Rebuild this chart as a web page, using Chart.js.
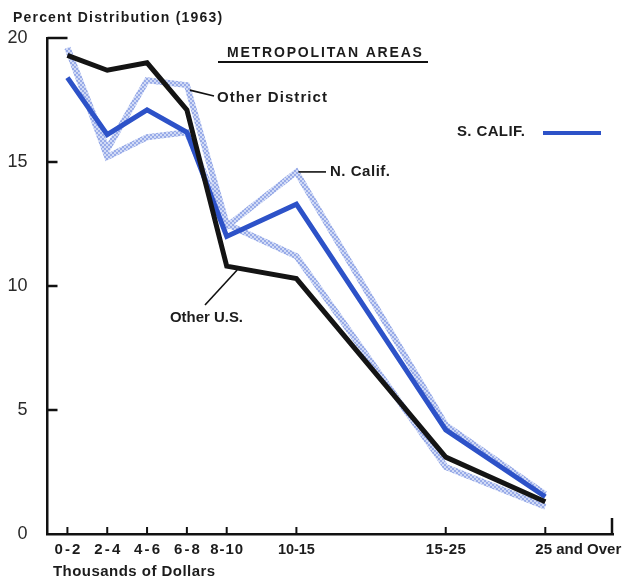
<!DOCTYPE html>
<html>
<head>
<meta charset="utf-8">
<script src="https://cdn.jsdelivr.net/npm/chart.js@4/dist/chart.umd.min.js"></script>
<style>
  html, body { margin: 0; padding: 0; background: #ffffff; }
  #wrap { width: 626px; height: 577px; }
</style>
</head>
<body>
<div id="wrap"><canvas id="c" width="626" height="577"></canvas></div>
<script>
// ---- data ----
const categories = ['0-2', '2-4', '4-6', '6-8', '8-10', '10-15', '15-25', '25 and Over'];
const incomeMidpoints = [1, 3, 5, 7, 9, 12.5, 20, 25]; // thousands of dollars
const otherUS = [19.3, 18.7, 19.0, 17.1, 10.8, 10.3, 3.1, 1.3];
const sCalif = [18.4, 16.1, 17.1, 16.2, 12.0, 13.3, 4.2, 1.5];
const nCalif = [19.6, 15.2, 16.0, 16.2, 12.4, 14.6, 4.4, 1.6];
const otherDistrict = [19.6, 15.5, 18.3, 18.1, 12.5, 11.2, 2.7, 1.1];
const yTicks = [0, 5, 10, 15, 20];
const chartTitle = 'Percent Distribution (1963)';
const panelTitle = 'METROPOLITAN AREAS';
const xAxisTitle = 'Thousands of Dollars';

function pts(values) {
  return values.map((v, i) => ({ x: incomeMidpoints[i], y: v, label: categories[i] }));
}

// halftone-like pattern for the light (hatched) lines
function makePattern() {
  const p = document.createElement('canvas');
  p.width = 4; p.height = 4;
  const g = p.getContext('2d');
  g.fillStyle = '#d2dbf6';
  g.fillRect(0, 0, 4, 4);
  g.fillStyle = '#98abe8';
  g.fillRect(0, 0, 2, 2);
  g.fillRect(2, 2, 2, 2);
  return g.createPattern(p, 'repeat');
}
const ctx0 = document.getElementById('c').getContext('2d');
const lightPattern = makePattern();

const FONT = '"Liberation Sans", Arial, sans-serif';

function fitText(ctx, text, x, cy, width, size, align) {
  ctx.save();
  ctx.font = 'bold ' + size + 'px ' + FONT;
  ctx.fillStyle = '#1c1c1c';
  ctx.textBaseline = 'middle';
  ctx.textAlign = 'left';
  const w0 = ctx.measureText(text).width;
  let left = x;
  if (align === 'center') left = x - width / 2;
  if ('letterSpacing' in ctx && width > w0) {
    const sp = (width - w0) / Math.max(1, text.length - 1);
    ctx.letterSpacing = sp.toFixed(2) + 'px';
    ctx.fillText(text, left, cy);
  } else {
    ctx.translate(left, cy);
    ctx.scale(width / w0, 1);
    ctx.fillText(text, 0, 0);
  }
  ctx.restore();
}

const decor = {
  id: 'decor',
  afterDraw(chart) {
    const ctx = chart.ctx;
    const xs = chart.scales.x, ys = chart.scales.y;
    const ca = chart.chartArea;
    const X = v => xs.getPixelForValue(v);
    const Y = v => ys.getPixelForValue(v);
    ctx.save();
    ctx.strokeStyle = '#111';
    ctx.lineCap = 'butt';
    // y ticks (inside)
    ctx.lineWidth = 2.5;
    yTicks.forEach(t => {
      if (t === 0) return;
      const len = (t === 20) ? 20 : 10;
      ctx.beginPath();
      ctx.moveTo(ca.left, Y(t));
      ctx.lineTo(ca.left + len, Y(t));
      ctx.stroke();
    });
    // x ticks (inside, upward)
    ctx.lineWidth = 2;
    incomeMidpoints.forEach(m => {
      ctx.beginPath();
      ctx.moveTo(X(m), ca.bottom);
      ctx.lineTo(X(m), ca.bottom - 7);
      ctx.stroke();
    });
    // right end tick
    ctx.lineWidth = 2.5;
    ctx.beginPath();
    ctx.moveTo(ca.right - 1, ca.bottom + 1);
    ctx.lineTo(ca.right - 1, ca.bottom - 16);
    ctx.stroke();

    // x category labels
    categories.forEach((c, i) => {
      const px = X(incomeMidpoints[i]);
      const widths = [26, 26, 26, 26, 33, 37, 40, 86];
      if (i === categories.length - 1) {
        fitText(ctx, c, px - 10, 550, widths[i], 15, 'left');
      } else {
        fitText(ctx, c, px, 550, widths[i], 15, 'center');
      }
    });
    fitText(ctx, xAxisTitle, 53, 572, 162, 15, 'left');

    // titles
    fitText(ctx, chartTitle, 13, 18, 209, 14, 'left');
    fitText(ctx, panelTitle, 227, 53, 195, 14, 'left');
    ctx.lineWidth = 2;
    ctx.beginPath();
    ctx.moveTo(218, 62);
    ctx.lineTo(428, 62);
    ctx.stroke();

    // annotations with leader lines
    ctx.lineWidth = 1.6;
    // Other District
    const od = { x: X(incomeMidpoints[3]), y: Y(otherDistrict[3]) };
    ctx.beginPath();
    ctx.moveTo(od.x + 3, od.y + 5);
    ctx.lineTo(214, 96);
    ctx.stroke();
    fitText(ctx, 'Other District', 217, 98, 110, 15, 'left');
    // N. Calif.
    const nc = { x: X(incomeMidpoints[5]), y: Y(nCalif[5]) };
    ctx.beginPath();
    ctx.moveTo(nc.x + 2, nc.y);
    ctx.lineTo(326, nc.y);
    ctx.stroke();
    fitText(ctx, 'N. Calif.', 330, 172, 60, 15, 'left');
    // Other U.S.
    const a = { x: X(incomeMidpoints[4]), y: Y(otherUS[4]) };
    const b = { x: X(incomeMidpoints[5]), y: Y(otherUS[5]) };
    const f = 0.15;
    ctx.beginPath();
    ctx.moveTo(a.x + (b.x - a.x) * f, a.y + (b.y - a.y) * f + 2);
    ctx.lineTo(205, 305);
    ctx.stroke();
    fitText(ctx, 'Other U.S.', 170, 318, 73, 15, 'left');
    // S. CALIF. legend
    fitText(ctx, 'S. CALIF.', 457, 132, 68, 15, 'left');
    ctx.strokeStyle = '#2d52c8';
    ctx.lineWidth = 4;
    ctx.beginPath();
    ctx.moveTo(543, 133);
    ctx.lineTo(601, 133);
    ctx.stroke();
    ctx.restore();
  }
};

new Chart(ctx0, {
  type: 'line',
  data: {
    datasets: [
      { label: 'Other U.S.', data: pts(otherUS), borderColor: '#141414', borderWidth: 5, order: 0 },
      { label: 'S. Calif.', data: pts(sCalif), borderColor: '#2d52c8', borderWidth: 5, order: 1 },
      { label: 'N. Calif.', data: pts(nCalif), borderColor: lightPattern, borderWidth: 6, order: 2 },
      { label: 'Other District', data: pts(otherDistrict), borderColor: lightPattern, borderWidth: 6, order: 3 }
    ]
  },
  options: {
    responsive: false,
    animation: false,
    layout: { padding: { top: 38, right: 13, left: 0, bottom: 0 } },
    elements: {
      line: { tension: 0, fill: false, borderJoinStyle: 'miter', borderCapStyle: 'butt' },
      point: { radius: 0, hoverRadius: 0 }
    },
    plugins: { legend: { display: false }, tooltip: { enabled: false }, title: { display: false } },
    scales: {
      x: {
        type: 'linear',
        min: 0,
        max: 28.4,
        grid: { display: false },
        border: { display: true, color: '#111', width: 2.5 },
        ticks: { display: false },
        afterBuildTicks: s => { s.ticks = incomeMidpoints.map(v => ({ value: v })); },
        afterFit: s => { s.height = 43; }
      },
      y: {
        type: 'linear',
        min: 0,
        max: 20,
        grid: { display: false },
        border: { display: true, color: '#111', width: 2.5 },
        ticks: {
          stepSize: 5,
          padding: 12,
          color: '#2a2a2a',
          font: { family: FONT, size: 18 },
          callback: v => yTicks.includes(v) ? String(v) : ''
        },
        afterBuildTicks: s => { s.ticks = yTicks.map(v => ({ value: v })); },
        afterFit: s => { s.width = 47.5; }
      }
    }
  },
  plugins: [decor]
});
</script>
</body>
</html>
